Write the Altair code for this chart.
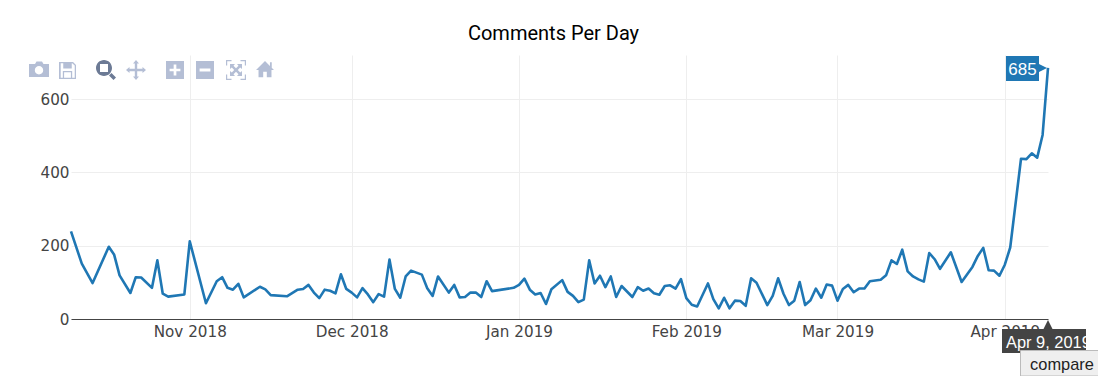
import altair as alt
import pandas as pd

START = "2018-10-10"
# days since START, and comments on that day
days = [0,2,4,7,8,9,11,12,13,15,16,17,18,21,22,25,27,28,29,30,31,32,35,36,37,40,42,
        43,44,45,46,47,48,49,50,51,52,53,54,55,56,57,58,59,60,61,62,63,65,66,67,68,70,71,72,73,74,75,76,77,78,
        82,83,84,85,86,87,88,89,91,92,93,94,95,96,97,98,99,100,101,102,104,105,106,107,108,109,110,111,112,113,
        114,115,116,118,119,120,121,122,123,124,125,126,127,129,130,131,132,133,134,135,136,137,138,139,140,141,
        142,143,144,145,146,147,148,150,151,152,153,154,155,156,157,158,159,160,161,163,165,167,168,169,170,171,
        172,173,174,176,177,178,179,180,181]
comments = [239,151,98,197,175,119,71,114,113,85,160,69,61,67,212,43,103,114,85,80,96,59,88,81,65,62,80,
            82,93,72,57,80,77,70,122,82,72,59,84,67,46,68,61,162,82,58,116,132,121,84,63,116,72,93,59,60,72,72,60,103,76,
            85,93,110,80,67,71,41,81,106,74,63,46,53,160,97,118,87,116,60,90,60,87,77,83,70,66,90,92,83,109,
            57,39,34,97,54,29,58,29,50,49,36,111,99,38,63,111,69,38,50,101,38,51,83,58,94,91,
            50,82,93,73,83,83,103,107,119,160,150,189,130,116,108,102,180,163,137,182,101,142,172,194,133,132,
            118,148,195,437,436,452,440,502,685]
y_ticks = [0, 200, 400, 600]
x_ticks = [(2018, 11), (2018, 12), (2019, 1), (2019, 2), (2019, 3), (2019, 4)]
TITLE = "Comments Per Day"
LAST_VALUE = "685"
LAST_DATE = "Apr 9, 2019"
BUTTON = "compare"

OX, OY = 71, 55   # plot origin on the page, used for overlay furniture
PW, PH = 977, 264

dates = [(pd.Timestamp(START) + pd.Timedelta(days=d)).strftime("%Y-%m-%d") for d in days]
df = pd.DataFrame({"date": dates, "comments": comments})

one = alt.Data(values=[{"a": 1}])


def box(x0, y0, x1, y1, fill, stroke=None):
    kw = {"fill": fill}
    if stroke:
        kw.update(stroke=stroke, strokeWidth=1)
    return alt.Chart(one).mark_rect(**kw).encode(
        x=alt.value(x0 - OX), x2=alt.value(x1 - OX), y=alt.value(y0 - OY), y2=alt.value(y1 - OY))


def label(text, x, y, size, color, align="left", font="Liberation Sans"):
    return alt.Chart(one).mark_text(text=text, fontSize=size, color=color, align=align,
                                    baseline="alphabetic", font=font).encode(
        x=alt.value(x - OX), y=alt.value(y - OY))


def icon(path, cx, cy, w, color):
    return alt.Chart(one).mark_point(shape=path, filled=True, fill=color, size=w * w, opacity=1,
                                     strokeWidth=0).encode(
        x=alt.value(cx - OX), y=alt.value(cy - OY))


LIGHT = "#b4bed5"
DARK = "#6c7a95"
CAMERA = ("M-1 -0.55H-0.4L-0.25 -0.8H0.3L0.45 -0.55H1V0.75H-1Z"
          "M0 -0.35A0.42 0.42 0 1 0 0 0.49A0.42 0.42 0 1 0 0 -0.35Z")
FLOPPY = ("M-1 -1H0.65L1 -0.65V1H-1Z"
          "M-0.8 -0.85V0.85H-0.55V0.05H0.55V0.85H0.85V-0.6L0.55 -0.85H0.5V-0.25H-0.5V-0.85Z"
          "M-0.4 0.85H0.4V0.2H-0.4Z")
MAGNIFY = ("M-0.2 -1A0.8 0.8 0 1 1 -0.2 0.6A0.8 0.8 0 1 1 -0.2 -1Z"
           "M-0.6 -0.6V0.2H0.2V-0.6Z"
           "M0.3 0.55L0.55 0.3L1 0.75L0.75 1Z")
PAN = ("M0 -1L0.3 -0.65H0.12V-0.12H0.65V-0.3L1 0L0.65 0.3V0.12H0.12V0.65H0.3L0 1L-0.3 0.65H-0.12V0.12"
       "H-0.65V0.3L-1 0L-0.65 -0.3V-0.12H-0.12V-0.65H-0.3Z")
PLUS = ("M-1 -1H1V1H-1Z"
        "M-0.15 -0.6V-0.15H-0.6V0.15H-0.15V0.6H0.15V0.15H0.6V-0.15H0.15V-0.6Z")
MINUS = "M-1 -1H1V1H-1ZM-0.6 -0.17V0.17H0.6V-0.17Z"
AUTOSCALE = ("M-1 -1H-0.45V-0.88H-0.88V-0.45H-1Z M1 -1V-0.45H0.88V-0.88H0.45V-1Z"
             "M1 1H0.45V0.88H0.88V0.45H1Z M-1 1V0.45H-0.88V0.88H-0.45V1Z"
             "M-0.6 -0.6H-0.1L-0.25 -0.42L0 -0.18L0.25 -0.42L0.1 -0.6H0.6V-0.1L0.42 -0.25L0.18 0L0.42 0.25L0.6 0.1"
             "V0.6H0.1L0.25 0.42L0 0.18L-0.25 0.42L-0.1 0.6H-0.6V0.1L-0.42 0.25L-0.18 0L-0.42 -0.25L-0.6 -0.1Z")
HOME = ("M0 -1L0.55 -0.45V-0.85H0.75V-0.25L1 0H0.72V0.8H0.2V0.2H-0.2V0.8H-0.72V0H-1Z")

line = alt.Chart(df).mark_line(color="#1f77b4", strokeWidth=2.6, strokeJoin="round", clip=False).encode(
    x=alt.X("date:T",
            scale=alt.Scale(type="utc", domain=[alt.DateTime(year=2018, month=10, date=10, utc=True),
                                                alt.DateTime(year=2019, month=4, date=9, utc=True)], nice=False),
            axis=alt.Axis(title=None,
                          values=[alt.DateTime(year=y, month=m, date=1, utc=True) for y, m in x_ticks],
                          format="%b %Y", grid=True, gridColor="#eeeeee", gridWidth=1,
                          domain=True, domainColor="#444444", domainWidth=1,
                          ticks=False, labelPadding=5, labelFontSize=15.2, labelColor="#444444",
                          labelFont="DejaVu Sans", labelFlush=False, labelOverlap=False)),
    y=alt.Y("comments:Q",
            scale=alt.Scale(domain=[0, 720], nice=False, zero=True),
            axis=alt.Axis(title=None, values=y_ticks, grid=True, gridColor="#eeeeee", gridWidth=1,
                          domain=False, ticks=False, labelPadding=2, labelFontSize=15.2,
                          labelColor="#444444", labelFont="DejaVu Sans")),
)

layers = [
    line,
    icon(CAMERA, 39, 69.5, 20, LIGHT),
    icon(FLOPPY, 67.5, 70.5, 17, LIGHT),
    icon(MAGNIFY, 106, 70, 20, DARK),
    icon(PAN, 136, 70, 20, LIGHT),
    icon(PLUS, 175, 70, 18, LIGHT),
    icon(MINUS, 205, 70, 18, LIGHT),
    icon(AUTOSCALE, 236, 70, 20, LIGHT),
    icon(HOME, 265, 70, 18, LIGHT),
    # hover label for the last value
    box(1006, 56, 1039, 81, "#1f77b4"),
    alt.Chart(one).mark_point(shape="M-1 -1L1 0L-1 1Z", filled=True, fill="#1f77b4", size=196, opacity=1,
                              strokeWidth=0).encode(x=alt.value(1040 - OX), y=alt.value(68 - OY)),
    label(LAST_VALUE, 1022.5, 74.5, 17, "#ffffff", align="center"),
    # hover label for the x position
    box(1002, 329, 1086, 353, "#444444"),
    alt.Chart(one).mark_point(shape="M-1 1L0 -1L1 1Z", filled=True, fill="#444444", size=196, opacity=1,
                              strokeWidth=0).encode(x=alt.value(1048 - OX), y=alt.value(327 - OY)),
    label(LAST_DATE, 1006, 347.5, 16.4, "#ffffff"),
    box(1020.5, 350.5, 1106, 376, "#efefef", "#bbbbbb"),
    label(BUTTON, 1062, 370, 16.4, "#222222", align="center"),
]

chart = alt.layer(*layers).properties(
    width=PW, height=PH,
    padding={"left": OX - 8, "top": OY - 8, "right": 1090 - (OX - 8) - PW, "bottom": 368 - (OY - 8) - PH},
    autosize=alt.AutoSizeParams(type="none"),
    title=alt.TitleParams(TITLE, font="Roboto", fontSize=20, fontWeight="normal", color="#000000",
                          anchor="middle", dx=-6, offset=11),
).configure_view(stroke=None)

chart.save("out.html", embed_options={"renderer": "svg", "actions": False})
